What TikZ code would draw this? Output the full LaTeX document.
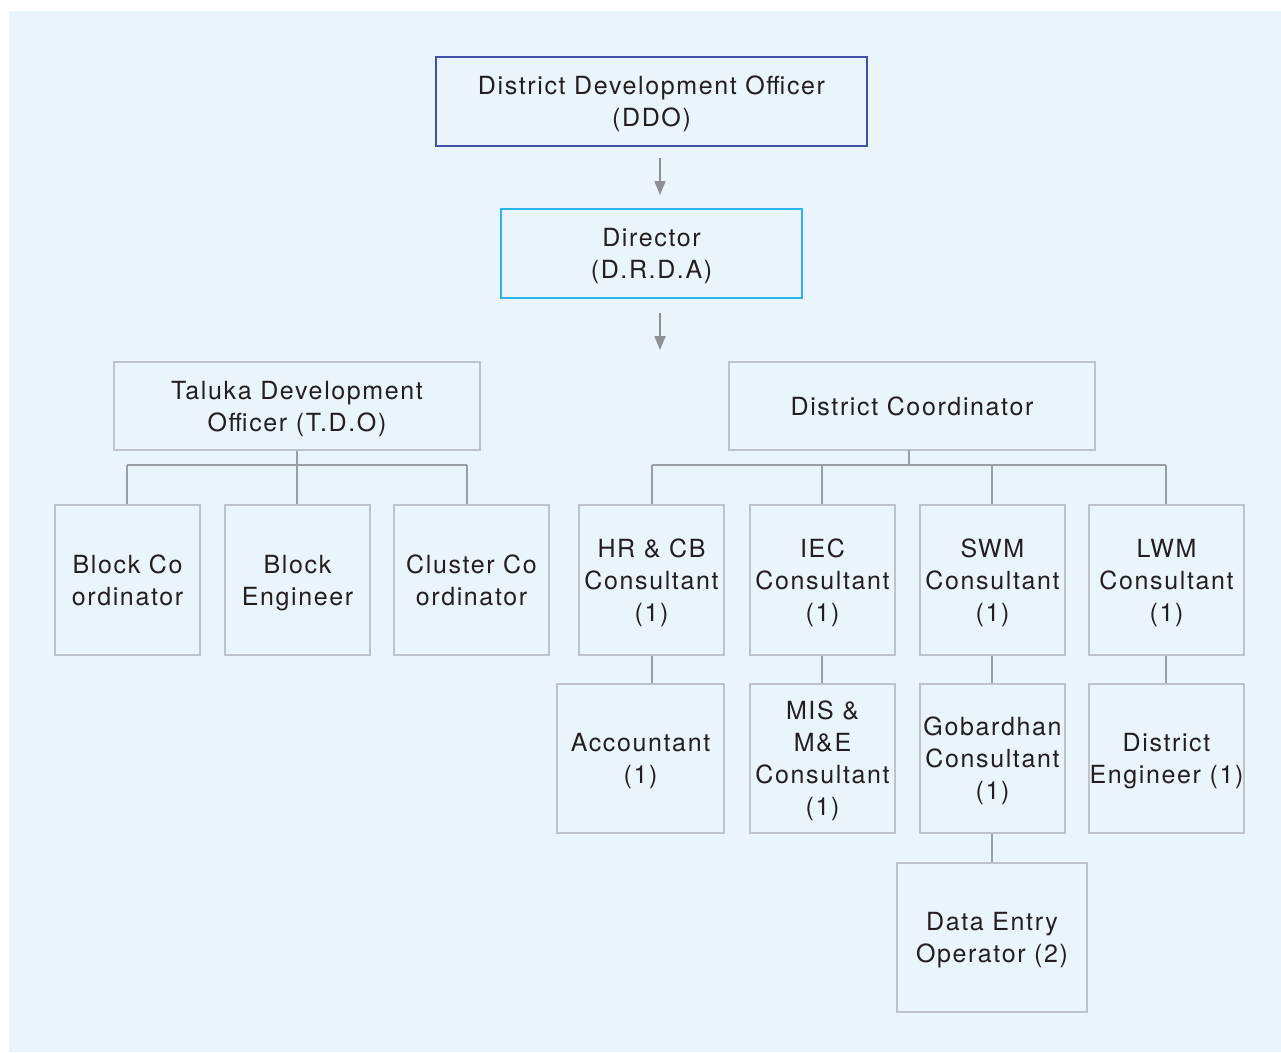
\documentclass[tikz,border=0pt]{standalone}
\usepackage{fontspec}
\setmainfont[LetterSpace=6.5]{TeX Gyre Heros}
\usetikzlibrary{arrows.meta}
\definecolor{bgblue}{HTML}{E9F4FB}
\definecolor{boxgray}{HTML}{BEC2CB}
\definecolor{linegray}{HTML}{9A9EA5}
\definecolor{arrowgray}{HTML}{8E9096}
\definecolor{ddoblue}{HTML}{3F51A8}
\definecolor{drdacyan}{HTML}{2BB5EA}
\definecolor{txt}{HTML}{231F20}
\tikzset{
  orgbox/.style={draw=boxgray, line width=2pt, inner sep=0pt, align=center,
    text=txt, text depth=0pt, font=\fontsize{25}{32}\selectfont},
  link/.style={draw=linegray, line width=1.5pt},
  downarrow/.style={draw=arrowgray, line width=1.8pt, -{Triangle[length=14pt,width=11pt]}}
}
\begin{document}
\begin{tikzpicture}[x=1pt,y=-1pt]
\useasboundingbox (0,0) rectangle (1281,1052);
\fill[white] (0,0) rectangle (1281,1052);
\fill[bgblue] (9,11) rectangle (1281,1052);

% top boxes
\node[orgbox, draw=ddoblue, line width=2.4pt, minimum width=431pt, minimum height=89pt] (ddo) at (651.5,101.5) {District Development Officer\\(DDO)};
\node[orgbox, draw=drdacyan, line width=2.4pt, minimum width=301pt, minimum height=89pt] (drda) at (651.5,253.5) {Director\\(D.R.D.A)};

\coordinate (a1s) at (660,158);
\coordinate (a1e) at (660,195);
\coordinate (a2s) at (660,313);
\coordinate (a2e) at (660,350);
\draw[downarrow] (a1s) -- (a1e);
\draw[downarrow] (a2s) -- (a2e);

% second level
\node[orgbox, minimum width=366pt, minimum height=88pt] (tdo) at (297,406) {Taluka Development\\Officer (T.D.O)};
\node[orgbox, minimum width=366pt, minimum height=88pt] (dc) at (912,406) {District Coordinator};

% TDO children
\node[orgbox, minimum width=145pt, minimum height=150pt] (bco) at (127.5,580) {Block Co\\ordinator};
\node[orgbox, minimum width=145pt, minimum height=150pt] (be) at (297.5,580) {Block\\Engineer};
\node[orgbox, minimum width=155pt, minimum height=150pt] (cco) at (471.5,580) {Cluster Co\\ordinator};

% DC children
\node[orgbox, minimum width=145pt, minimum height=150pt] (hr) at (651.5,580) {HR \& CB\\Consultant\\(1)};
\node[orgbox, minimum width=145pt, minimum height=150pt] (iec) at (822.5,580) {IEC\\Consultant\\(1)};
\node[orgbox, minimum width=145pt, minimum height=150pt] (swm) at (992.5,580) {SWM\\Consultant\\(1)};
\node[orgbox, minimum width=155pt, minimum height=150pt] (lwm) at (1166.5,580) {LWM\\Consultant\\(1)};

% third row
\node[orgbox, minimum width=167pt, minimum height=149pt] (acc) at (640.5,758.5) {Accountant\\(1)};
\node[orgbox, minimum width=145pt, minimum height=149pt] (mis) at (822.5,758.5) {MIS \&\\M\&E\\Consultant\\(1)};
\node[orgbox, minimum width=145pt, minimum height=149pt] (gob) at (992.5,758.5) {Gobardhan\\Consultant\\(1)};
\node[orgbox, minimum width=155pt, minimum height=149pt] (de) at (1166.5,758.5) {District\\Engineer (1)};

% fourth row
\node[orgbox, minimum width=190pt, minimum height=149pt] (deo) at (992,937.5) {Data Entry\\Operator (2)};

% TDO connectors
\coordinate (tbus) at (297,465);
\coordinate (t1) at (127,465);
\coordinate (t3) at (467,465);
\draw[link] (tdo.south) -- (tbus);
\draw[link] (t1) -- (t3);
\draw[link] (t1) -- (t1 |- bco.north);
\draw[link] (tbus) -- (tbus |- be.north);
\draw[link] (t3) -- (t3 |- cco.north);

% DC connectors
\coordinate (dtop) at (909,450);
\coordinate (dbus) at (909,465);
\coordinate (d1) at (652,465);
\coordinate (d2) at (822,465);
\coordinate (d3) at (992,465);
\coordinate (d4) at (1166,465);
\draw[link] (dtop) -- (dbus);
\draw[link] (d1) -- (d4);
\draw[link] (d1) -- (d1 |- hr.north);
\draw[link] (d2) -- (d2 |- iec.north);
\draw[link] (d3) -- (d3 |- swm.north);
\draw[link] (d4) -- (d4 |- lwm.north);

% vertical links
\draw[link] (d1 |- hr.south) -- (d1 |- acc.north);
\draw[link] (d2 |- iec.south) -- (d2 |- mis.north);
\draw[link] (d3 |- swm.south) -- (d3 |- gob.north);
\draw[link] (d4 |- lwm.south) -- (d4 |- de.north);
\draw[link] (d3 |- gob.south) -- (d3 |- deo.north);
\end{tikzpicture}
\end{document}
